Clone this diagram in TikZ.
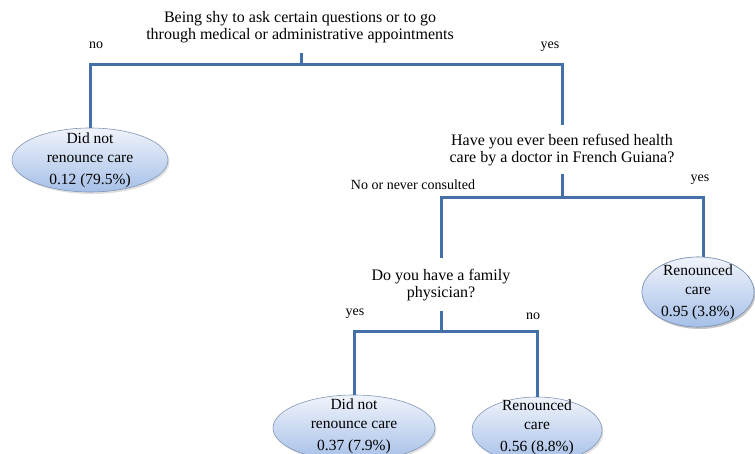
\documentclass[tikz,border=0pt]{standalone}
\usepackage{fontspec}
\setmainfont{Liberation Serif}
\usetikzlibrary{shapes.geometric,shadows}
\definecolor{branchblue}{HTML}{4470A8}
\definecolor{elltop}{HTML}{F0F3FB}
\definecolor{ellbot}{HTML}{A6C0E8}
\definecolor{ellborder}{HTML}{8096B6}
\tikzset{
  branch/.style={draw=branchblue, line width=3pt, line join=miter},
  leaf/.style={ellipse, draw=ellborder, line width=0.6pt, top color=elltop, bottom color=ellbot,
    inner sep=0pt, drop shadow={opacity=0.25, shadow xshift=1.5pt, shadow yshift=-2pt}},
  leaftext/.style={align=center, inner sep=0pt, font=\fontsize{15.5}{19}\selectfont},
  question/.style={align=center, inner sep=0pt, font=\fontsize{16}{17}\selectfont},
  edgelabel/.style={inner sep=0pt, font=\fontsize{14}{15}\selectfont},
}
\begin{document}
\begin{tikzpicture}[x=1pt,y=-1pt]
\useasboundingbox (0,0) rectangle (755,454);
\clip (0,0) rectangle (755,454);
% questions
\node[question] (q1) at (300,27) {Being shy to ask certain questions or to go\\through medical or administrative appointments};
\node[question] (q2) at (562,150) {Have you ever been refused health\\care by a doctor in French Guiana?};
\node[question] (q3) at (441,285) {Do you have a family\\physician?};
% leaves
\node[leaf, minimum width=156pt, minimum height=64pt] (e1) at (90,160) {};
\node[leaftext] (t1) at (90,160) {Did not\\renounce care\\[3pt]0.12 (79.5\%)};
\node[leaf, minimum width=112pt, minimum height=70pt] (e2) at (698,292) {};
\node[leaftext] (t2) at (698,292) {Renounced\\care\\[3pt]0.95 (3.8\%)};
\node[leaf, minimum width=162pt, minimum height=66pt] (e3) at (354,428) {};
\node[leaftext] (t3) at (354,426) {Did not\\renounce care\\[3pt]0.37 (7.9\%)};
\node[leaf, minimum width=130pt, minimum height=66pt] (e4) at (537,430) {};
\node[leaftext] (t4) at (537,427) {Renounced\\care\\[3pt]0.56 (8.8\%)};
% connector coordinates
\coordinate (s1) at (301,53);
\coordinate (j1) at (301,65);
\coordinate (a2) at (562,125);
\coordinate (s2) at (562,174);
\coordinate (j2) at (562,198);
\coordinate (a3) at (441,258);
\coordinate (b2) at (703,262);
\coordinate (s3) at (441,311);
\coordinate (j3) at (441,332);
% connectors
\draw[branch] (s1) -- (j1);
\draw[branch] (e1.north) |- (j1) -| (a2);
\draw[branch] (s2) -- (j2);
\draw[branch] (a3) |- (j2) -| (b2);
\draw[branch] (s3) -- (j3);
\draw[branch] (e3.north) |- (j3) -| (e4.north);
% redraw leaf on top of connector end
\node[leaf, minimum width=112pt, minimum height=70pt] at (698,292) {};
\node[leaftext] at (698,292) {Renounced\\care\\[3pt]0.95 (3.8\%)};
% edge labels
\node[edgelabel] (l1) at (96,45) {no};
\node[edgelabel] (l2) at (550,47) {yes};
\node[edgelabel] (l3) at (413,185) {No or never consulted};
\node[edgelabel] (l4) at (700,180) {yes};
\node[edgelabel] (l5) at (355,314) {yes};
\node[edgelabel] (l6) at (533,316) {no};
\end{tikzpicture}
\end{document}
